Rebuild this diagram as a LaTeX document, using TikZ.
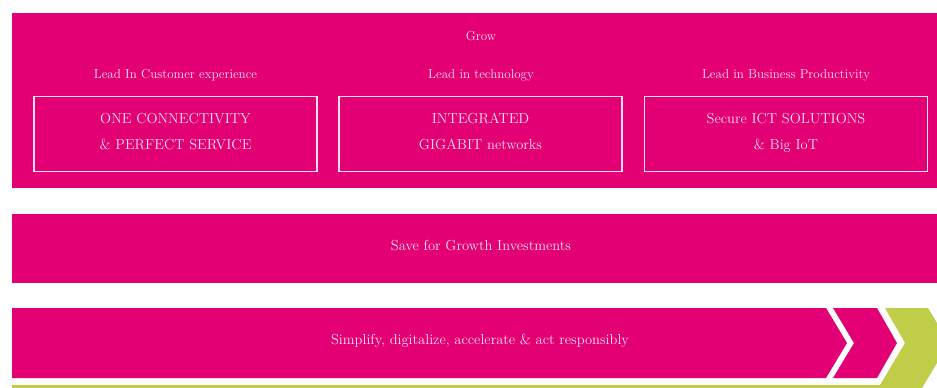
\documentclass[tikz,border=0pt]{standalone}
\usepackage{xcolor}
\definecolor{tmag}{RGB}{226,0,116}
\definecolor{tgreen}{RGB}{192,205,72}
\definecolor{ttext}{RGB}{255,226,240}
\begin{document}
\begin{tikzpicture}[x=1pt,y=-1pt,
  lbl/.style={text=ttext,font=\fontsize{13}{15}\selectfont,inner sep=0pt,anchor=base},
  big/.style={text=ttext,font=\fontsize{14.5}{17}\selectfont,inner sep=0pt,anchor=base},
  pillar/.style={draw=ttext,line width=1.3pt,minimum width=283pt,minimum height=75pt,inner sep=0pt}]
\useasboundingbox (0,0) rectangle (937,388);
% top band
\fill[tmag] (12,13) rectangle (937,188);
\node[lbl] (grow) at (481,40) {Grow};
\node[lbl] (l1) at (175.5,78) {Lead In Customer experience};
\node[lbl] (l2) at (481,78) {Lead in technology};
\node[lbl] (l3) at (786,78) {Lead in Business Productivity};
\node[pillar] (b1) at (175.5,134) {};
\node[pillar] (b2) at (480.5,134) {};
\node[pillar] (b3) at (786,134) {};
\node[big] (t1a) at (175.5,123) {ONE CONNECTIVITY};
\node[big] (t1b) at (175.5,149) {\& PERFECT SERVICE};
\node[big] (t2a) at (480.5,123) {INTEGRATED};
\node[big] (t2b) at (480.5,149) {GIGABIT networks};
\node[big] (t3a) at (786,123) {Secure ICT SOLUTIONS};
\node[big] (t3b) at (786,149) {\& Big IoT};
% middle band
\fill[tmag] (12,214) rectangle (937,283);
\node[big] (save) at (481,250) {Save for Growth Investments};
% bottom arrow band
\fill[tgreen] (885,308) -- (928,308) -- (949,343) -- (922,388) -- (12,388) -- (12,385) -- (880,385) -- (905,343) -- cycle;
\fill[tmag] (12,308) -- (826,308) -- (847,343) -- (826,378) -- (12,378) -- cycle;
\fill[tmag] (833,308) -- (877,308) -- (897,343) -- (877,378) -- (833,378) -- (854,343) -- cycle;
\node[big] (simp) at (480,344) {Simplify, digitalize, accelerate \& act responsibly};
\end{tikzpicture}
\end{document}
